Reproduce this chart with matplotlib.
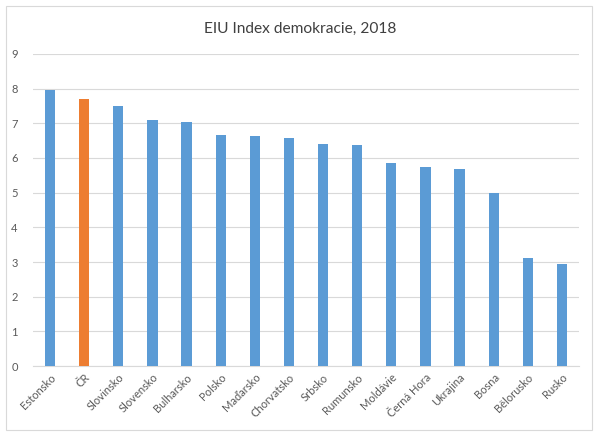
import matplotlib
matplotlib.use("Agg")
import matplotlib.pyplot as plt
from matplotlib.patches import Rectangle

countries = ["Estonsko", "ČR", "Slovinsko", "Slovensko", "Bulharsko", "Polsko",
             "Maďarsko", "Chorvatsko", "Srbsko", "Rumunsko", "Moldávie",
             "Černá Hora", "Ukrajina", "Bosna", "Bělorusko", "Rusko"]
scores = [7.97, 7.69, 7.50, 7.10, 7.03, 6.67, 6.63, 6.57, 6.41, 6.38, 5.85,
          5.74, 5.69, 4.98, 3.13, 2.94]
highlight = "ČR"

plt.rcParams['font.family'] = ['Lato', 'DejaVu Sans']

fig = plt.figure(figsize=(6, 4.38), dpi=100)
ax = fig.add_axes([0.055, 0.164, 0.91, 0.713])

colors = ['#ED7D31' if c == highlight else '#5B9BD5' for c in countries]
x = range(len(countries))
ax.bar(x, scores, width=0.3, color=colors, zorder=3)

ax.set_xlim(-0.5, len(countries) - 0.5)
ax.set_ylim(0, 9)
ax.set_yticks(range(0, 10))
ax.set_xticks(list(x))
ax.set_xticklabels(countries, rotation=45, ha='right', rotation_mode='anchor')
ax.tick_params(axis='both', length=0, labelsize=8, colors='#595959')
ax.tick_params(axis='y', pad=11)
ax.tick_params(axis='x', pad=4)
ax.grid(axis='y', color='#D9D9D9', linewidth=0.8, zorder=0)
for s in ['top', 'right', 'left']:
    ax.spines[s].set_visible(False)
ax.spines['bottom'].set_color('#D9D9D9')

fig.text(0.5, 0.935, "EIU Index demokracie, 2018", ha='center', va='center',
         fontsize=11.2, color='#404040')

fig.patches.append(Rectangle((0.01, 0.018), 0.977, 0.968, transform=fig.transFigure,
                             fill=False, edgecolor='#D9D9D9', linewidth=0.8))

fig.savefig("out.png", dpi=100)
